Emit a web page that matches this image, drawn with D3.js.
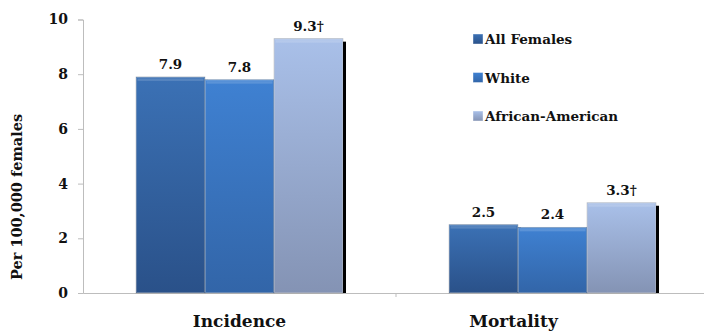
<!DOCTYPE html>
<html><head><meta charset="utf-8">
<script src="https://cdn.jsdelivr.net/npm/d3@7"></script>
<style>
body{margin:0;background:#fff;}
svg text{font-family:"DejaVu Serif",serif;font-weight:bold;fill:#111;}
</style></head>
<body><svg id="c" width="704" height="331"></svg>
<script>
const categories = ["Incidence", "Mortality"];
const seriesNames = ["All Females", "White", "African-American"];
const allFemales = [7.9, 2.5];
const white = [7.8, 2.4];
const africanAmerican = [9.3, 3.3];
const valueLabels = [["7.9","7.8","9.3†"],["2.5","2.4","3.3†"]];
const yTicks = [0, 2, 4, 6, 8, 10];
const yTitle = "Per 100,000 females";

const seriesValues = [allFemales, white, africanAmerican];
const colorsTop = ["#3b71b5", "#3f81d2", "#a9c0e9"];
const colorsBot = ["#2a5189", "#3265a8", "#8493b4"];

const svg = d3.select("#c");
const margin = {left: 83, top: 19.5, right: -5, bottom: 38};
const W = 704, H = 331;
const x0 = d3.scaleBand().domain(categories).range([margin.left, W - margin.right]).paddingInner(0).paddingOuter(0);
const x1 = d3.scaleBand().domain(seriesNames).range([0, x0.bandwidth()]).paddingInner(0).paddingOuter(0.768);
const y = d3.scaleLinear().domain([0, 10]).range([H - margin.bottom, margin.top]);

const defs = svg.append("defs");
seriesNames.forEach((s, i) => {
  const g = defs.append("linearGradient").attr("id", "g" + i).attr("x1", 0).attr("y1", 0).attr("x2", 0).attr("y2", 1);
  g.append("stop").attr("offset", "0%").attr("stop-color", colorsTop[i]);
  g.append("stop").attr("offset", "100%").attr("stop-color", colorsBot[i]);
});

// axes
const yAxis = svg.append("g").attr("transform", `translate(${margin.left},0)`)
  .call(d3.axisLeft(y).tickValues(yTicks).tickSize(5).tickPadding(10).tickFormat(d3.format("d")));
yAxis.select(".domain").attr("stroke", "#bdbdbd");
yAxis.selectAll(".tick line").attr("stroke", "#bdbdbd");
yAxis.selectAll("text").attr("font-size", 14).style("font-family", '"DejaVu Serif",serif').style("font-weight", "bold").attr("fill", "#111");

const xAxis = svg.append("g").attr("transform", `translate(0,${y(0)})`)
  .call(d3.axisBottom(x0).tickSize(0).tickFormat(""));
xAxis.select(".domain").attr("stroke", "#bdbdbd");
xAxis.selectAll(".tick").remove();
// boundary tick between categories
svg.append("line").attr("x1", x0("Mortality")).attr("x2", x0("Mortality"))
  .attr("y1", y(0)).attr("y2", y(0) + 4).attr("stroke", "#bdbdbd");

// category labels
const labelShift = {Incidence: 0, Mortality: -39};
svg.selectAll(".cat").data(categories).join("text")
  .attr("x", d => x0(d) + x0.bandwidth() / 2 + labelShift[d])
  .attr("y", y(0) + 34).attr("text-anchor", "middle").attr("font-size", 17).text(d => d);

// y title
svg.append("text").attr("transform", `translate(22,197) rotate(-90)`)
  .attr("text-anchor", "middle").attr("font-size", 14.5).text(yTitle);

// bars
categories.forEach((cat, ci) => {
  const g = svg.append("g").attr("transform", `translate(${x0(cat)},0)`);
  seriesNames.forEach((s, si) => {
    const v = seriesValues[si][ci];
    g.append("rect").attr("x", x1(s) + 3).attr("y", y(v) + 3)
      .attr("width", x1.bandwidth()).attr("height", y(0) - y(v) - 3).attr("fill", "#000");
  });
  seriesNames.forEach((s, si) => {
    const v = seriesValues[si][ci];
    const bx = x1(s), bw = x1.bandwidth(), by = y(v), bh = y(0) - y(v);
    g.append("rect").attr("x", bx).attr("y", by).attr("width", bw).attr("height", bh).attr("fill", `url(#g${si})`);
    g.append("rect").attr("x", bx + 0.5).attr("y", by + 0.5).attr("width", bw - 1).attr("height", bh - 1)
      .attr("fill", "none").attr("stroke", "rgba(255,255,255,0.3)").attr("stroke-width", 1);
    g.append("rect").attr("x", bx + 1.5).attr("y", by + 1.5).attr("width", bw - 3).attr("height", 2.5)
      .attr("fill", "rgba(255,255,255,0.15)");
    g.append("rect").attr("x", bx).attr("y", by).attr("width", bw).attr("height", bh)
      .attr("fill", "none").attr("stroke", "rgba(0,0,0,0.18)").attr("stroke-width", 0.8);
    g.append("text").attr("x", bx + bw / 2).attr("y", by - 8).attr("text-anchor", "middle")
      .attr("font-size", 13.5).text(valueLabels[ci][si]);
  });
});

// legend
const lg = svg.append("g").attr("transform", "translate(473,0)");
const legendY = d3.scalePoint().domain(seriesNames).range([39, 116]);
seriesNames.forEach((s, i) => {
  lg.append("rect").attr("x", 0).attr("y", legendY(s) - 5).attr("width", 10).attr("height", 10)
    .attr("fill", `url(#g${i})`).attr("stroke", "rgba(255,255,255,0.5)").attr("stroke-width", 0.8);
  lg.append("text").attr("x", 12).attr("y", legendY(s) + 5).attr("font-size", 13.5).text(s);
});
</script></body></html>
